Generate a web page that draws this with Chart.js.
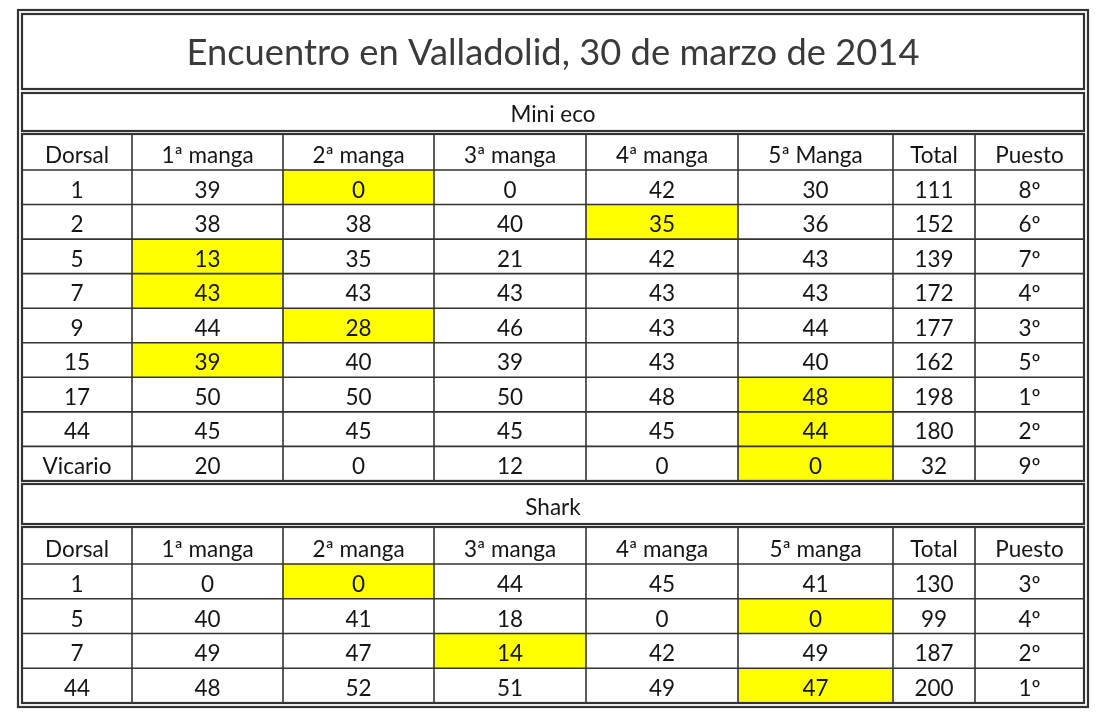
<!DOCTYPE html>
<html lang="es">
<head>
<meta charset="utf-8">
<title>Encuentro en Valladolid, 30 de marzo de 2014</title>
<script src="https://cdn.jsdelivr.net/npm/chart.js@4.4.1/dist/chart.umd.min.js"></script>
<style>
    html, body { margin: 0; padding: 0; background: #fff; }
    #wrap { width: 1100px; height: 727px; }
</style>
</head>
<body>
<div id="wrap"><canvas id="tabla" width="1100" height="727"></canvas></div>
<script>
// Title and section names
const title = 'Encuentro en Valladolid, 30 de marzo de 2014';
const miniName = 'Mini eco';
const sharkName = 'Shark';

// Mini eco results
const miniHeaders = ['Dorsal', '1ª manga', '2ª manga', '3ª manga', '4ª manga', '5ª Manga', 'Total', 'Puesto'];
const miniDorsal = ['1', '2', '5', '7', '9', '15', '17', '44', 'Vicario'];
const miniManga1 = [39, 38, 13, 43, 44, 39, 50, 45, 20];
const miniManga2 = [0, 38, 35, 43, 28, 40, 50, 45, 0];
const miniManga3 = [0, 40, 21, 43, 46, 39, 50, 45, 12];
const miniManga4 = [42, 35, 42, 43, 43, 43, 48, 45, 0];
const miniManga5 = [30, 36, 43, 43, 44, 40, 48, 44, 0];
const miniTotal = [111, 152, 139, 172, 177, 162, 198, 180, 32];
const miniPuesto = ['8º', '6º', '7º', '4º', '3º', '5º', '1º', '2º', '9º'];
const miniDiscarded = [2, 4, 1, 1, 2, 1, 5, 5, 5]; // column of the yellow (discarded) manga

// Shark results
const sharkHeaders = ['Dorsal', '1ª manga', '2ª manga', '3ª manga', '4ª manga', '5ª manga', 'Total', 'Puesto'];
const sharkDorsal = ['1', '5', '7', '44'];
const sharkManga1 = [0, 40, 49, 48];
const sharkManga2 = [0, 41, 47, 52];
const sharkManga3 = [44, 18, 14, 51];
const sharkManga4 = [45, 0, 42, 49];
const sharkManga5 = [41, 0, 49, 47];
const sharkTotal = [130, 99, 187, 200];
const sharkPuesto = ['3º', '4º', '2º', '1º'];
const sharkDiscarded = [2, 5, 3, 5];

// Layout of the sheet, in scale units (1 unit = 1 px)
const colEdges = [4, 114, 265, 416, 568, 720, 875, 957, 1066];
const outer = { left: 0, right: 1070, top: 0, bottom: 697 };
const titleBox = { top: 4, bottom: 79 };
const miniBox = { top: 83, bottom: 121 };
const miniTable = { top: 124, header: 36, row: 34.55 };
const sharkBox = { top: 474, bottom: 514 };
const sharkTable = { top: 517, header: 37, row: 34.75 };

const fontFamily = 'Lato, "Open Sans", sans-serif';
const bodySize = 22.5;
const titleSize = 36.3;
const lineColor = '#333333';
const textColor = '#151515';
const yellow = '#ffff00';

function rowTop(table, i) {
    return table.top + table.header + i * table.row;
}

function discardedBars(table, discarded) {
    return discarded.map(function(col, i) {
        return { y: rowTop(table, i) + table.row / 2, x: [colEdges[col], colEdges[col + 1]] };
    });
}

const sheetPlugin = {
    id: 'sheet',
    afterDatasetsDraw: function(chart) {
        const ctx = chart.ctx;
        const sx = chart.scales.x;
        const sy = chart.scales.y;
        const px = v => sx.getPixelForValue(v);
        const py = v => sy.getPixelForValue(v);
        const left = colEdges[0];
        const right = colEdges[colEdges.length - 1];

        ctx.save();
        ctx.strokeStyle = lineColor;

        function box(top, bottom, lw, l, r) {
            ctx.lineWidth = lw;
            ctx.strokeRect(px(l), py(top), px(r) - px(l), py(bottom) - py(top));
        }

        function text(str, cx, baseline, size, color) {
            ctx.font = size + 'px ' + fontFamily;
            ctx.fillStyle = color;
            ctx.textAlign = 'center';
            ctx.textBaseline = 'alphabetic';
            ctx.fillText(str, px(cx), py(baseline));
        }

        function grid(table, headers, cols) {
            const rows = cols[0].length;
            const bottom = rowTop(table, rows);
            ctx.lineWidth = 1.6;
            ctx.beginPath();
            for (let c = 1; c < colEdges.length - 1; c++) {
                ctx.moveTo(px(colEdges[c]), py(table.top));
                ctx.lineTo(px(colEdges[c]), py(bottom));
            }
            for (let r = 0; r < rows; r++) {
                ctx.moveTo(px(left), py(rowTop(table, r)));
                ctx.lineTo(px(right), py(rowTop(table, r)));
            }
            ctx.stroke();
            box(table.top, bottom, 2.2, left, right);

            for (let c = 0; c < headers.length; c++) {
                const cx = (colEdges[c] + colEdges[c + 1]) / 2;
                text(headers[c], cx, rowTop(table, 0) - 7, bodySize, textColor);
                for (let r = 0; r < rows; r++) {
                    text(String(cols[c][r]), cx, rowTop(table, r + 1) - 7, bodySize, textColor);
                }
            }
        }

        // double outer frame
        box(outer.top, outer.bottom, 2.2, outer.left, outer.right);

        box(titleBox.top, titleBox.bottom, 2.2, left, right);
        text(title, (left + right) / 2, titleBox.bottom - 24, titleSize, '#3a3a3a');

        box(miniBox.top, miniBox.bottom, 2.2, left, right);
        text(miniName, (left + right) / 2, miniBox.bottom - 9, bodySize, textColor);
        grid(miniTable, miniHeaders,
            [miniDorsal, miniManga1, miniManga2, miniManga3, miniManga4, miniManga5, miniTotal, miniPuesto]);

        box(sharkBox.top, sharkBox.bottom, 2.2, left, right);
        text(sharkName, (left + right) / 2, sharkBox.bottom - 9, bodySize, textColor);
        grid(sharkTable, sharkHeaders,
            [sharkDorsal, sharkManga1, sharkManga2, sharkManga3, sharkManga4, sharkManga5, sharkTotal, sharkPuesto]);

        ctx.restore();
    }
};

function drawSheet() {
    const ctx = document.getElementById('tabla').getContext('2d');
    window.sheetChart = new Chart(ctx, {
        type: 'bar',
        data: {
            datasets: [{
                label: 'Mini eco - manga descartada',
                data: discardedBars(miniTable, miniDiscarded),
                backgroundColor: yellow,
                borderWidth: 0,
                grouped: false,
                barThickness: miniTable.row
            }, {
                label: 'Shark - manga descartada',
                data: discardedBars(sharkTable, sharkDiscarded),
                backgroundColor: yellow,
                borderWidth: 0,
                grouped: false,
                barThickness: sharkTable.row
            }]
        },
        options: {
            indexAxis: 'y',
            responsive: false,
            animation: false,
            devicePixelRatio: 1,
            layout: { padding: { left: 18, top: 10, right: 12, bottom: 20 } },
            scales: {
                x: { type: 'linear', min: outer.left, max: outer.right, offset: false, display: false },
                y: { type: 'linear', min: outer.top, max: outer.bottom, reverse: true, offset: false, display: false }
            },
            plugins: {
                legend: { display: false },
                tooltip: { enabled: false }
            }
        },
        plugins: [sheetPlugin]
    });
}

if (document.fonts && document.fonts.load) {
    Promise.all([document.fonts.load(bodySize + 'px Lato'), document.fonts.load(titleSize + 'px Lato')])
        .then(drawSheet, drawSheet);
} else {
    drawSheet();
}
</script>
</body>
</html>
